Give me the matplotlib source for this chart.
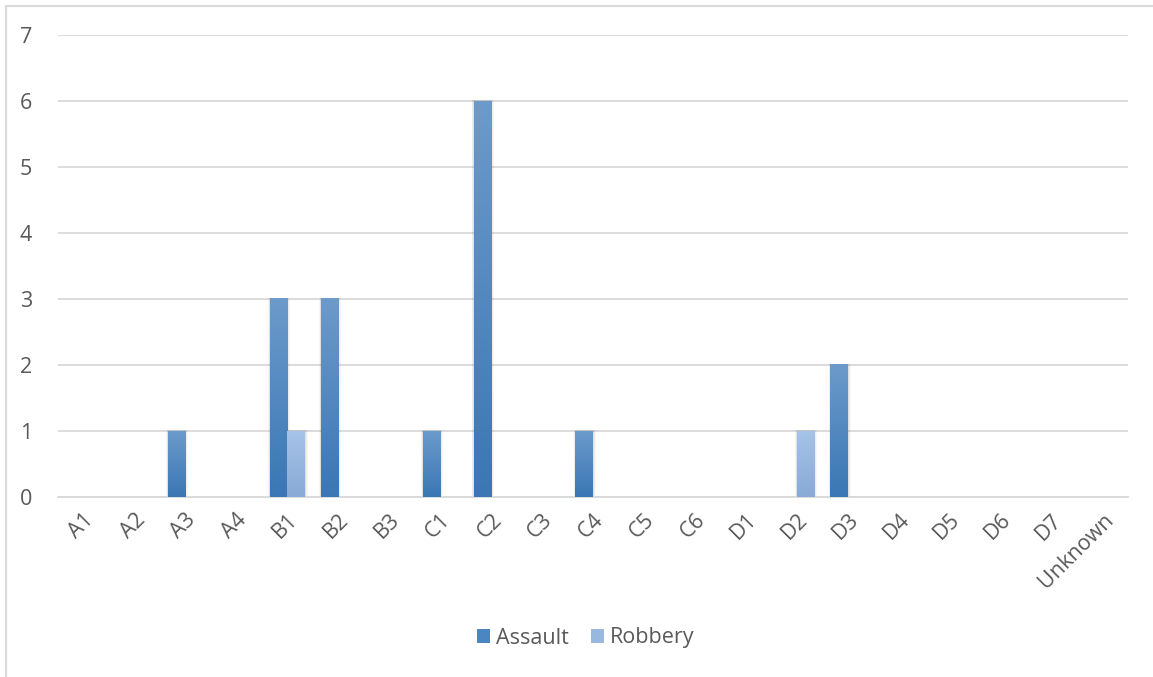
import matplotlib.pyplot as plt
import numpy as np
from matplotlib.patches import Rectangle, Patch

# -----------------------Data-----------------------
districts = ['A1', 'A2', 'A3', 'A4', 'B1', 'B2', 'B3', 'C1', 'C2', 'C3', 'C4',
             'C5', 'C6', 'D1', 'D2', 'D3', 'D4', 'D5', 'D6', 'D7', 'Unknown']
assault = [0, 0, 1, 0, 3, 3, 0, 1, 6, 0, 1, 0, 0, 0, 0, 2, 0, 0, 0, 0, 0]
robbery = [0, 0, 0, 0, 1, 0, 0, 0, 0, 0, 0, 0, 0, 0, 1, 0, 0, 0, 0, 0, 0]

# -----------------------Fig configuration-----------------------
plt.rcParams['font.family'] = ['Open Sans', 'DejaVu Sans']
text_color = '#595959'
grid_color = '#D9D9D9'
assault_top, assault_bot = '#6C9ACB', '#3A77B4'
robbery_top, robbery_bot = '#A6C3E8', '#88AAD6'
bar_width = 0.345
tick_size = 15.5

fig = plt.figure(figsize=(11.53, 6.77), dpi=100)
ax = fig.add_axes([58 / 1153, 1 - 497 / 677, (1128 - 58) / 1153, (497 - 35) / 677])

# outer chart border (only top and left edges fall inside the image)
fig.patches.append(Rectangle((6 / 1153, -0.05), 1.1, 1.05 - 6 / 677,
                             transform=fig.transFigure, fill=False,
                             edgecolor=grid_color, linewidth=1.5))


def grad_bar(x, h, top, bot):
    if h <= 0:
        return
    c1 = np.array(plt.matplotlib.colors.to_rgb(top))
    c2 = np.array(plt.matplotlib.colors.to_rgb(bot))
    t = np.linspace(0, 1, 64)[:, None]
    img = (c1 * (1 - t) + c2 * t)[:, None, :]
    # soft shadow
    for dx, a in [(0.06, 0.03), (0.04, 0.04), (0.02, 0.05)]:
        ax.add_patch(Rectangle((x - dx * 0.5, 0), bar_width + dx * 1.5, h + 0.015,
                               color='#000000', alpha=a, linewidth=0, zorder=2))
    ax.imshow(img, extent=(x, x + bar_width, 0, h), aspect='auto',
              origin='upper', zorder=3, interpolation='bilinear')


label_ticks = np.arange(len(districts))
for i in label_ticks:
    grad_bar(i - bar_width, assault[i], assault_top, assault_bot)
    grad_bar(i, robbery[i], robbery_top, robbery_bot)

ax.set_xlim(-0.5, len(districts) - 0.5)
ax.set_ylim(0, 7)
ax.set_yticks(range(0, 8))
ax.set_xticks(label_ticks)
ax.set_xticklabels(districts, rotation=45, ha='right', rotation_mode='anchor')
ax.tick_params(axis='both', length=0, labelsize=tick_size, colors=text_color)
ax.tick_params(axis='y', pad=23)
ax.tick_params(axis='x', pad=9)
for lbl in ax.get_yticklabels():
    lbl.set_horizontalalignment('center')

ax.grid(True, axis='y', color=grid_color, linewidth=1.3, zorder=0)
ax.set_axisbelow(True)
for s in ['top', 'right', 'left']:
    ax.spines[s].set_visible(False)
ax.spines['bottom'].set_color(grid_color)
ax.spines['bottom'].set_linewidth(1.3)

handles = [Patch(facecolor='#4A86C2', label='Assault'),
           Patch(facecolor='#98B8E0', label='Robbery')]
fig.legend(handles=handles, loc='center', bbox_to_anchor=(0.508, 1 - 638 / 677),
           ncol=2, frameon=False, fontsize=tick_size, labelcolor=text_color,
           handlelength=0.6, handleheight=0.6, handletextpad=0.3, columnspacing=1.0)

plt.savefig('out.png', dpi=100)
